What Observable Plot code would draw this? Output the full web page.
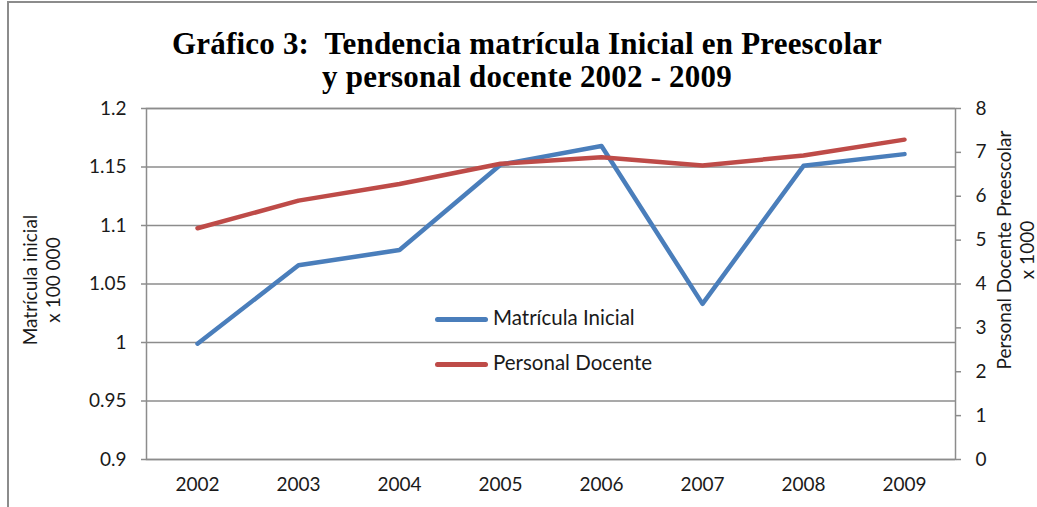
<!DOCTYPE html>
<html>
<head>
<meta charset="utf-8">
<script src="https://cdn.jsdelivr.net/npm/d3@7"></script>
<script src="https://cdn.jsdelivr.net/npm/@observablehq/plot@0.6"></script>
<style>
  html, body { margin: 0; padding: 0; background: #fff; overflow: hidden; }
  #wrap { position: relative; width: 1037px; height: 507px; overflow: hidden; font-family: Lato, "Open Sans", sans-serif; color: #1a1a1a; }
  #frame { position: absolute; left: 7px; top: 1px; width: 1100px; height: 600px; border: 2px solid #8c8c8c; box-sizing: border-box; }
  #title { position: absolute; left: 0; top: 27px; width: 1054px; text-align: center; font-family: "Liberation Serif", serif; font-weight: bold; font-size: 31px; line-height: 33px; color: #000; letter-spacing: 0.2px; }
  .ylab { position: absolute; transform: translate(-50%, -50%) rotate(-90deg); white-space: nowrap; font-size: 19px; text-align: center; line-height: 23px; }
  .leg { position: absolute; font-size: 20.5px; white-space: nowrap; }
  .leg span.sw { display: inline-block; width: 53px; height: 5px; border-radius: 3px; vertical-align: middle; margin-right: 5px; }
  #chart { position: absolute; left: 0; top: 0; }
</style>
</head>
<body>
<div id="wrap">
  <div id="frame"></div>
  <div id="chart"></div>
  <div id="title">Gráfico 3:&nbsp; Tendencia matrícula Inicial en Preescolar<br>y personal docente 2002 - 2009</div>
  <div class="ylab" style="left:41px; top:280px;">Matrícula inicial<br>x 100 000</div>
  <div class="ylab" style="left:1015px; top:250px;">Personal Docente Preescolar<br>x 1000</div>
  <div class="leg" style="left:435px; top:305px;"><span class="sw" style="background:#4a7ebb"></span>Matrícula Inicial</div>
  <div class="leg" style="left:435px; top:350px;"><span class="sw" style="background:#be4b48"></span>Personal Docente</div>
</div>
<script>
const years = [2002, 2003, 2004, 2005, 2006, 2007, 2008, 2009];
const matricula = [0.999, 1.066, 1.079, 1.152, 1.168, 1.033, 1.151, 1.161];
const docentes = [5.27, 5.90, 6.28, 6.74, 6.89, 6.70, 6.93, 7.29];
const leftTicks = [0.9, 0.95, 1.0, 1.05, 1.1, 1.15, 1.2];
const leftTickLabels = ["0.9", "0.95", "1", "1.05", "1.1", "1.15", "1.2"];
const rightTicks = [0, 1, 2, 3, 4, 5, 6, 7, 8];
const leftMin = 0.9, leftMax = 1.2, rightMin = 0, rightMax = 8;

const toLeft = v => leftMin + (v - rightMin) / (rightMax - rightMin) * (leftMax - leftMin);
const fromLeft = v => Math.round(rightMin + (v - leftMin) / (leftMax - leftMin) * (rightMax - rightMin));

const dataM = years.map((y, i) => ({year: y, value: matricula[i]}));
const dataD = years.map((y, i) => ({year: y, value: toLeft(docentes[i])}));

const gridColor = "#8c8c8c";

const chart = Plot.plot({
  width: 1037,
  height: 507,
  marginLeft: 146,
  marginRight: 82,
  marginTop: 108,
  marginBottom: 48,
  style: {fontFamily: "Lato, 'Open Sans', sans-serif", fontSize: "19px", color: "#1a1a1a", background: "transparent", overflow: "visible"},
  x: {type: "point", domain: years, padding: 0.5},
  y: {domain: [leftMin, leftMax]},
  marks: [
    Plot.gridY(leftTicks, {stroke: gridColor, strokeOpacity: 1, strokeWidth: 1.5}),
    Plot.frame({stroke: gridColor, strokeWidth: 1.5}),
    Plot.axisY(leftTicks, {anchor: "left", tickSize: 5, tickPadding: 15, stroke: gridColor, strokeWidth: 1.5, strokeOpacity: 1,
      tickFormat: d => leftTickLabels[leftTicks.indexOf(d)], fontSize: 19, label: null}),
    Plot.axisY(rightTicks.map(toLeft), {anchor: "right", tickSize: 5, tickPadding: 15, stroke: gridColor, strokeWidth: 1.5, strokeOpacity: 1,
      tickFormat: d => String(fromLeft(d)), fontSize: 19, label: null}),
    Plot.axisX(years, {tickSize: 0, tickPadding: 18, tickFormat: d => String(d), fontSize: 19, label: null}),
    Plot.line(dataM, {x: "year", y: "value", stroke: "#4a7ebb", strokeWidth: 4.5, strokeLinecap: "round", strokeLinejoin: "round"}),
    Plot.line(dataD, {x: "year", y: "value", stroke: "#be4b48", strokeWidth: 4.5, strokeLinecap: "round", strokeLinejoin: "round"})
  ]
});
document.getElementById("chart").appendChild(chart);
</script>
</body>
</html>
